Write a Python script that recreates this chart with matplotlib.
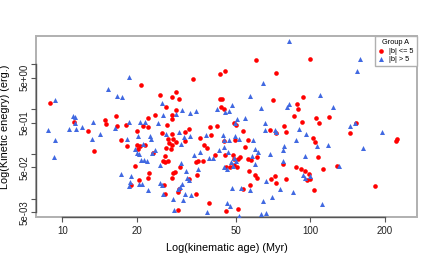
import matplotlib

matplotlib.use("Agg")

import matplotlib.pyplot as plt
import numpy as np
from matplotlib.patches import Rectangle

plt.rcParams["font.family"] = ["Liberation Sans", "DejaVu Sans"]

# log10 of kinematic age (Myr) and kinetic energy (erg.)
red_log_age = [
    0.949, 1.216, 1.171, 1.177, 1.048, 1.219, 1.257, 1.317, 1.526, 1.636,
    1.656, 1.393, 1.457, 1.442, 1.472, 1.636, 1.644, 1.418, 1.639, 1.651,
    1.458, 1.442, 1.375, 1.443, 1.347, 1.421, 1.326, 1.347, 1.595, 1.624,
    1.511, 1.780, 1.997, 1.861, 1.848, 1.970, 1.947, 1.949, 1.934, 2.023,
    1.966, 2.034, 1.692, 1.699, 1.895, 2.075, 2.183, 1.105, 1.235, 1.259,
    1.129, 1.278, 1.302, 1.403, 1.441, 1.495, 1.554, 1.601, 1.651, 1.426,
    1.447, 1.429, 1.441, 1.460, 1.496, 1.417, 1.437, 1.302, 1.313, 1.334,
    1.306, 1.367, 1.413, 1.571, 1.582, 1.616, 1.655, 1.405, 1.415, 1.426,
    1.546, 1.540, 1.568, 1.293, 1.474, 1.447, 1.455, 1.442, 1.348, 1.344,
    1.308, 1.512, 1.542, 1.410, 1.466, 1.470, 1.415, 1.538, 1.591, 1.467,
    1.727, 1.695, 1.836, 1.860, 1.902, 2.009, 2.019, 1.750, 1.736, 2.031,
    1.689, 1.717, 1.692, 1.710, 1.786, 1.749, 1.759, 1.658, 1.676, 1.690,
    1.706, 1.751, 1.888, 1.941, 1.962, 1.978, 1.994, 1.997, 1.986, 1.776,
    1.785, 1.841, 1.857, 1.861, 1.903, 2.013, 1.757, 1.730, 1.710, 1.658,
    2.160, 2.349, 2.344, 2.051, 2.109, 2.262,
]
red_log_energy = [
    0.140, -0.156, -0.245, -0.334, -0.290, -0.379, -0.363, 0.541, 0.661, 0.786,
    0.840, 0.305, 0.372, 0.261, 0.229, 0.223, 0.223, 0.038, 0.051, -0.007,
    -0.029, -0.127, -0.140, -0.223, -0.200, -0.363, -0.379, -0.390, -0.394, -0.379,
    -0.434, 1.091, 1.107, 0.808, 0.207, 0.274, 0.105, -0.007, -0.149, -0.200,
    -0.283, -0.318, -0.318, -0.363, -0.379, -0.185, -0.318, -0.490, -0.690, -0.831,
    -0.942, -1.693, -0.496, -0.528, -0.557, -0.512, -0.646, -0.572, -0.713, -0.675,
    -0.675, -0.764, -0.808, -0.728, -0.719, -0.869, -0.898, -0.808, -0.831, -0.808,
    -0.898, -0.987, -1.047, -0.795, -0.875, -1.025, -1.018, -1.165, -1.187, -1.158,
    -1.165, -1.187, -1.151, -1.258, -1.290, -1.418, -1.403, -1.537, -1.432, -1.530,
    -1.581, -1.566, -1.477, -1.686, -1.842, -1.775, -1.900, -1.886, -2.094, -2.256,
    -0.483, -0.683, -0.461, -0.528, -0.519, -0.646, -0.735, -0.690, -0.840, -1.069,
    -1.018, -1.063, -1.114, -1.121, -1.076, -1.114, -1.143, -1.285, -1.285, -1.247,
    -1.292, -1.381, -1.232, -1.299, -1.337, -1.375, -1.442, -1.553, -1.575, -1.470,
    -1.530, -1.553, -1.486, -1.648, -1.553, -1.793, -1.693, -1.789, -2.234, -2.265,
    -0.541, -0.675, -0.719, -1.337, -1.270, -1.715,
]

blue_log_age = [
    1.270, 1.183, 1.219, 1.239, 0.969, 1.042, 1.051, 1.052, 1.125, 1.270,
    1.080, 1.400, 1.484, 1.622, 1.655, 1.406, 1.460, 1.515, 1.540, 1.313,
    1.332, 1.387, 1.914, 1.808, 1.758, 2.038, 1.684, 1.800, 1.913, 1.906,
    1.673, 1.706, 1.738, 1.696, 1.817, 2.201, 2.189, 2.092, 2.179, 2.161,
    0.942, 1.028, 1.054, 1.119, 1.153, 1.212, 1.259, 0.971, 0.967, 1.235,
    1.278, 1.274, 1.269, 1.417, 1.472, 1.491, 1.515, 1.580, 1.647, 1.306,
    1.353, 1.357, 1.478, 1.324, 1.292, 1.372, 1.360, 1.300, 1.307, 1.554,
    1.531, 1.633, 1.609, 1.317, 1.330, 1.341, 1.395, 1.480, 1.591, 1.547,
    1.499, 1.309, 1.321, 1.502, 1.509, 1.394, 1.401, 1.484, 1.474, 1.466,
    1.345, 1.407, 1.496, 1.517, 1.446, 1.488, 1.449, 1.582, 1.695, 1.711,
    1.672, 1.652, 1.818, 1.856, 1.861, 1.953, 1.981, 1.942, 2.025, 1.767,
    1.777, 1.788, 1.837, 1.893, 1.888, 1.980, 1.652, 1.669, 1.692, 1.700,
    1.763, 1.679, 1.687, 1.778, 1.663, 1.652, 1.891, 1.969, 1.977, 2.000,
    1.821, 1.684, 1.722, 1.755, 1.876, 1.931, 1.845, 1.808, 1.665, 1.676,
    1.802, 1.821, 1.711, 2.288, 2.071, 2.212, 2.114, 2.047,
]
blue_log_energy = [
    0.713, 0.452, 0.283, 0.261, 0.200, -0.156, -0.178, -0.318, -0.290, -0.283,
    -0.394, 0.127, -0.016, 0.000, -0.067, -0.127, -0.105, -0.089, -0.051, -0.296,
    -0.290, -0.318, 1.521, 0.579, 0.290, 0.318, 0.089, 0.029, 0.105, 0.045,
    -0.045, -0.223, -0.194, -0.318, -0.311, 1.120, 0.853, 0.045, -0.318, -0.379,
    -0.474, -0.452, -0.445, -0.675, -0.557, -0.416, -0.668, -0.697, -1.062, -1.448,
    -1.492, -1.619, -1.722, -0.550, -0.512, -0.624, -0.601, -0.579, -0.579, -0.601,
    -0.601, -0.675, -0.773, -0.773, -0.884, -0.920, -0.973, -0.987, -1.002, -0.958,
    -1.031, -0.913, -1.092, -1.129, -1.143, -1.158, -1.247, -1.209, -1.092, -1.331,
    -1.381, -1.664, -1.671, -1.544, -1.588, -1.655, -1.700, -1.678, -1.745, -1.776,
    -1.798, -1.887, -1.887, -1.915, -1.998, -2.020, -2.250, -2.294, -0.595, -0.675,
    -0.684, -0.690, -0.468, -0.468, -0.506, -0.445, -0.557, -0.684, -0.824, -0.697,
    -0.898, -0.958, -1.009, -0.824, -0.920, -1.047, -0.846, -0.951, -1.092, -1.165,
    -1.040, -1.187, -1.263, -1.218, -1.330, -1.285, -1.165, -1.470, -1.530, -1.492,
    -1.610, -1.760, -1.766, -1.811, -1.789, -1.842, -1.960, -2.056, -2.101, -2.167,
    -2.339, -2.323, -2.390, -0.519, -0.802, -0.875, -1.258, -2.116,
]

x_ticks = [10, 20, 50, 100, 200]
y_ticks = [5e-3, 1e-2, 5e-2, 1e-1, 5e-1, 1, 5, 10]
y_tick_labels = ["5e-03", "", "5e-02", "", "5e-01", "", "5e+00", ""]

BOX_GREY = "#b0b0b0"
AXIS_GREY = "#555555"


def main():
    fig = plt.figure(figsize=(4.36, 2.62), dpi=100)
    ax = fig.add_axes([36 / 436, 45 / 262, 381 / 436, 181 / 262])

    ax.scatter(10 ** np.array(red_log_age), 10 ** np.array(red_log_energy),
               s=11, c="#ff0000", marker="o", linewidths=0, label="|b| <= 5", zorder=3)
    ax.scatter(10 ** np.array(blue_log_age), 10 ** np.array(blue_log_energy),
               s=13, c="#4169e1", marker="^", linewidths=0, label="|b| > 5", zorder=3)

    ax.set_xscale("log")
    ax.set_yscale("log")
    ax.set_xlim(7.83, 269)
    ax.set_ylim(3.94e-3, 42.3)

    ax.set_xticks(x_ticks)
    ax.set_xticklabels([str(t) for t in x_ticks])
    ax.set_yticks(y_ticks)
    ax.set_yticklabels(y_tick_labels)
    ax.minorticks_off()
    ax.tick_params(axis="both", length=3.5, width=0.8, color=AXIS_GREY,
                   labelsize=7, labelcolor="#222222")
    ax.tick_params(axis="x", pad=3)
    ax.tick_params(axis="y", pad=1.5)
    for lab in ax.get_yticklabels():
        lab.set_rotation(90)
        lab.set_va("center")

    # grey box, darker axis lines from first to last tick (R style)
    for side in ["top", "right"]:
        ax.spines[side].set_visible(False)
    for side in ["left", "bottom"]:
        ax.spines[side].set_color(AXIS_GREY)
        ax.spines[side].set_linewidth(1.0)
    ax.spines["bottom"].set_bounds(x_ticks[0], x_ticks[-1])
    ax.spines["left"].set_bounds(y_ticks[0], y_ticks[-1])
    ax.add_patch(Rectangle((0, 0), 1, 1, transform=ax.transAxes, fill=False,
                           edgecolor=BOX_GREY, linewidth=1.4, clip_on=False, zorder=1))

    ax.set_xlabel("Log(kinematic age) (Myr)", fontsize=7.8)
    ax.set_ylabel("Log(Kinetic enegry) (erg.)", fontsize=7.8)
    ax.xaxis.set_label_coords(0.5, -0.17)
    ax.xaxis.label.set_va("center")
    ax.yaxis.set_label_coords(-0.081, 0.5)
    ax.yaxis.label.set_va("center")

    leg = ax.legend(loc="upper right", title="Group A", fontsize=5.3, title_fontsize=5.3,
                    borderaxespad=0, fancybox=False, framealpha=1, edgecolor=BOX_GREY,
                    handlelength=0.8, handletextpad=0.7, borderpad=0.45,
                    labelspacing=0.15, markerscale=1.0)
    leg.get_frame().set_linewidth(1.0)

    fig.savefig("out.png", dpi=100)
    plt.close(fig)


if __name__ == "__main__":
    main()
